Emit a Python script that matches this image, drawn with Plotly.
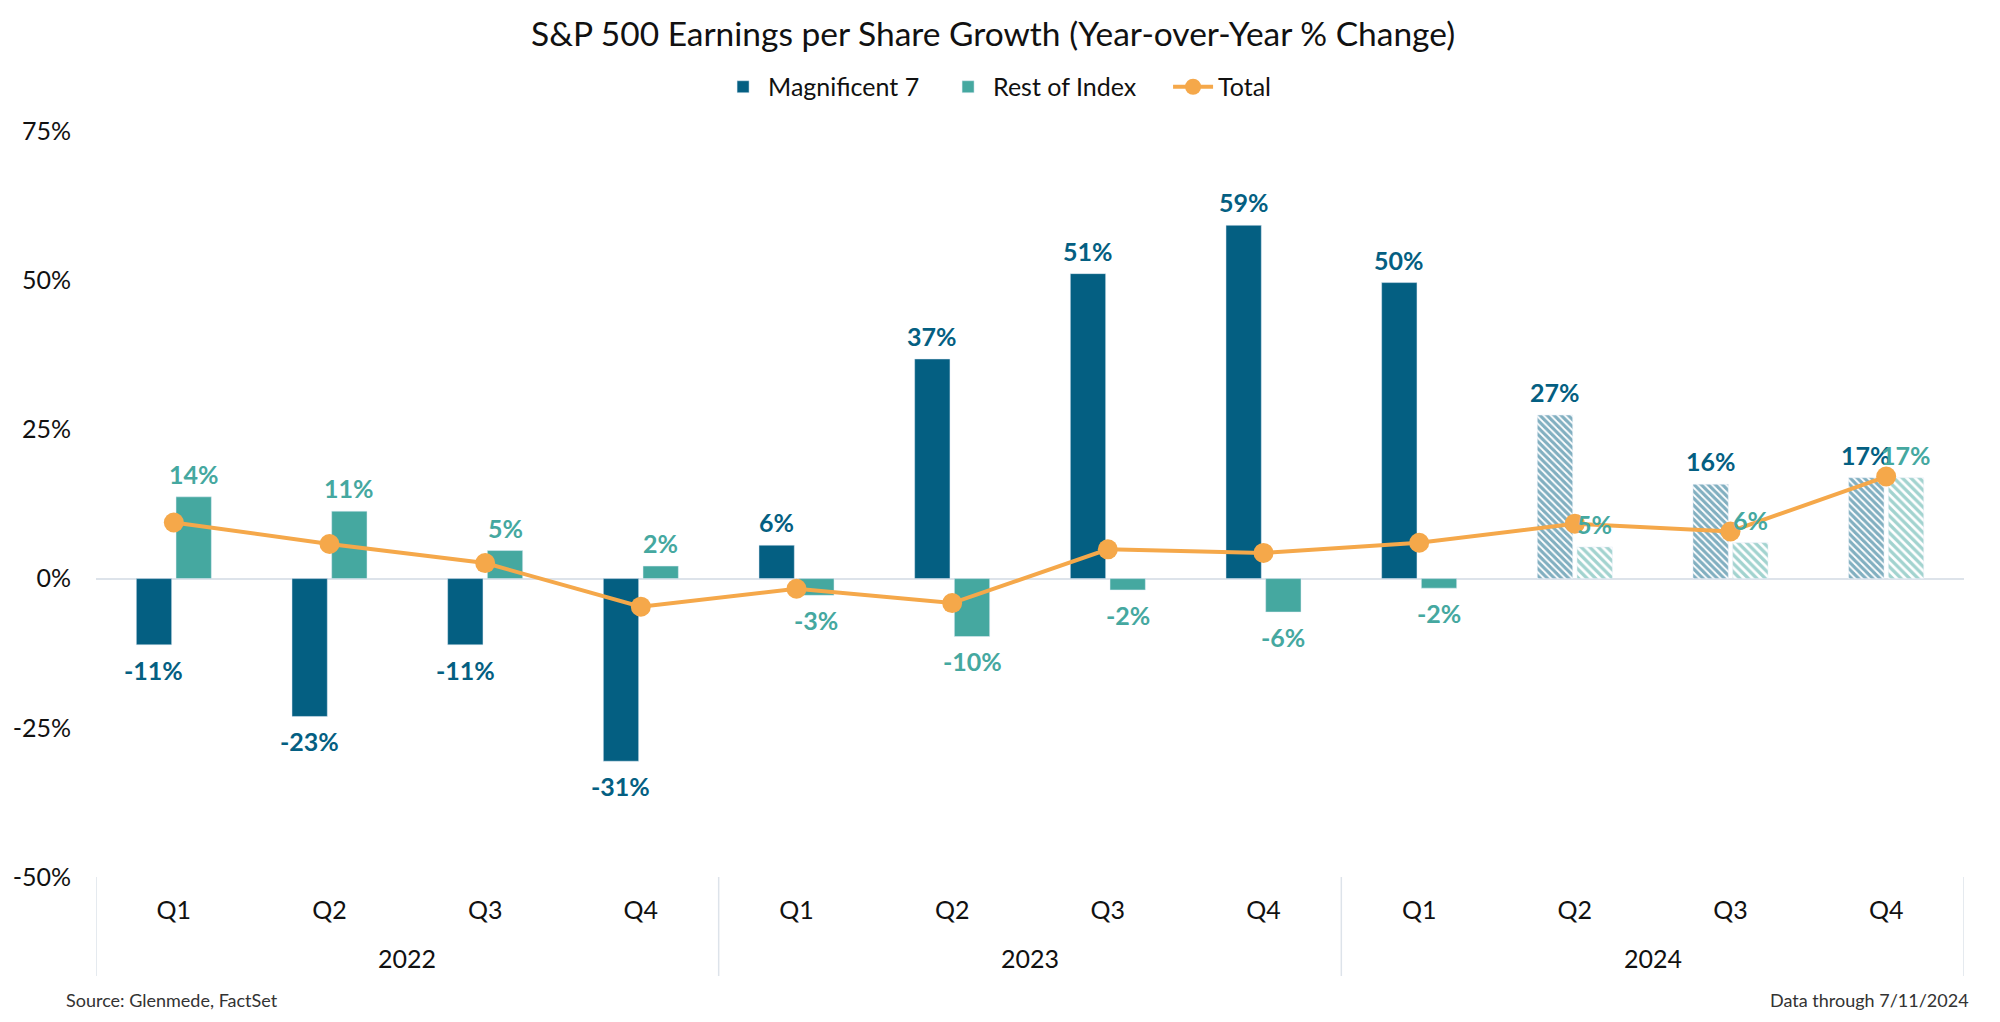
import plotly.graph_objects as go

years = ["2022", "2023", "2024"]
quarters = ["Q1", "Q2", "Q3", "Q4"]
mag7 = [-11.1, -23.1, -11.1, -30.6, 5.6, 36.8, 51.1, 59.2, 49.6, 27.4, 15.8, 16.9]
rest = [13.7, 11.3, 4.7, 2.1, -2.8, -9.7, -1.9, -5.6, -1.6, 5.3, 6.0, 16.9]
total = [9.4, 5.8, 2.6, -4.7, -1.7, -4.1, 4.9, 4.3, 6.0, 9.2, 7.9, 17.1]
estimate = [False] * 9 + [True] * 3
y_ticks = [-50, -25, 0, 25, 50, 75]

C_MAG = "#045F82"
C_REST = "#45A8A0"
C_TOT = "#F5A84A"
FONT = "Lato"
W, H = 1984, 1006

n = len(mag7)
xs = list(range(n))
tick_text = quarters * len(years)
bargap = 0.49
slot = (1 - bargap) / 2

fig = go.Figure()
fig.add_trace(go.Bar(
    x=xs, y=mag7, name="Magnificent 7",
    marker=dict(color=C_MAG,
                pattern=dict(shape=["\\" if e else "" for e in estimate],
                             fgcolor=C_MAG, bgcolor="white", size=5, solidity=0.65)),
))
fig.add_trace(go.Bar(
    x=xs, y=rest, name="Rest of Index",
    marker=dict(color=C_REST,
                pattern=dict(shape=["\\" if e else "" for e in estimate],
                             fgcolor=C_REST, bgcolor="white", size=6, solidity=0.55)),
))
fig.add_trace(go.Scatter(
    x=xs, y=total, name="Total", mode="lines+markers",
    line=dict(color=C_TOT, width=4),
    marker=dict(color=C_TOT, size=20),
))

annotations = []
for vals, color, sign in [(mag7, C_MAG, -1), (rest, C_REST, 1)]:
    for i, v in enumerate(vals):
        annotations.append(dict(
            x=i + sign * slot / 2, y=v, xref="x", yref="y",
            text=f"{v:.0f}%", showarrow=False,
            font=dict(family=FONT, size=25, color=color, weight=700),
            yanchor="bottom" if v >= 0 else "top",
            yshift=6 if v >= 0 else -8,
        ))

for j, yr in enumerate(years):
    annotations.append(dict(
        x=j * len(quarters) + (len(quarters) - 1) / 2, y=0, xref="x", yref="paper",
        text=yr, showarrow=False, yanchor="middle", yshift=-81,
        font=dict(family=FONT, size=25, color="#111111"),
    ))

annotations.append(dict(xref="paper", yref="paper", x=-0.0171, xanchor="left",
                        y=0, yshift=-123, yanchor="middle", text="Source: Glenmede, FactSet",
                        showarrow=False, font=dict(family=FONT, size=18, color="#333333")))
annotations.append(dict(x=1.0037, xref="paper", xanchor="right", y=0, yref="paper",
                        yshift=-123, yanchor="middle", text="Data through 7/11/2024",
                        showarrow=False, font=dict(family=FONT, size=18, color="#333333")))

shapes = []
for j in range(len(years) + 1):
    shapes.append(dict(type="line", xref="x", yref="paper",
                       x0=j * len(quarters) - 0.5, x1=j * len(quarters) - 0.5,
                       y0=0, y1=-0.1327, line=dict(color="#DDE3EA", width=1.5)))

fig.update_layout(
    width=W, height=H,
    margin=dict(l=88, r=28, t=123, b=137, autoexpand=False),
    paper_bgcolor="white", plot_bgcolor="white",
    barmode="group", bargap=bargap, bargroupgap=0.11,
    font=dict(family=FONT, color="#111111"),
    title=dict(text="S&P 500 Earnings per Share Growth (Year-over-Year % Change)",
               x=0.4965, xanchor="center", y=1 - 26 / H, yanchor="middle",
               font=dict(family=FONT, size=33.5, color="#111111")),
    legend=dict(orientation="h", xref="container", x=0.3579, xanchor="left",
                y=1.059, yanchor="middle",
                font=dict(family=FONT, size=25, color="#111111"),
                entrywidth=170, entrywidthmode="pixels",
                itemwidth=40, traceorder="normal", bgcolor="rgba(0,0,0,0)"),
    annotations=annotations,
    shapes=shapes,
)
fig.update_xaxes(range=[-0.5, n - 0.5], tickvals=xs, ticktext=tick_text,
                 showgrid=False, zeroline=False, showline=False, automargin=False,
                 ticks="outside", ticklen=11, tickcolor="rgba(0,0,0,0)",
                 tickfont=dict(family=FONT, size=25, color="#111111"))
fig.update_yaxes(range=[-50, 75], tickvals=y_ticks, ticktext=[f"{t}%" for t in y_ticks],
                 showgrid=False, zeroline=True, zerolinecolor="#DDE3EA", zerolinewidth=2,
                 showline=False, ticks="", ticklabelstandoff=24, automargin=False,
                 tickfont=dict(family=FONT, size=25, color="#111111"))

fig.write_html("out.html")
